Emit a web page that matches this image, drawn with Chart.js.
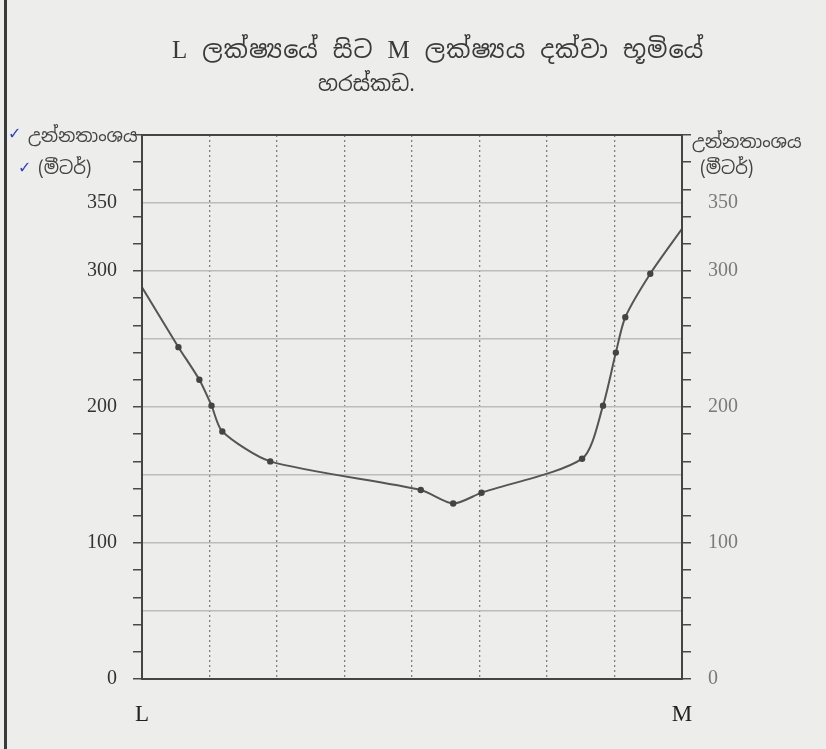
<!DOCTYPE html>
<html>
<head>
<meta charset="utf-8">
<script src="https://cdn.jsdelivr.net/npm/chart.js@4.4.1/dist/chart.umd.min.js"></script>
<style>
  html, body { margin: 0; padding: 0; }
  body {
    width: 826px; height: 749px; overflow: hidden; position: relative;
    background: #ededeb;
    font-family: "Noto Sans Sinhala", "Liberation Serif", "DejaVu Serif", serif;
    color: #333;
  }
  #frame { position: absolute; left: 4px; top: 0; width: 3px; height: 749px; background: #3a3a3a; }
  #wrap { position: absolute; left: 0; top: 0; width: 826px; height: 749px; }
  .txt { position: absolute; white-space: nowrap; }
  .title { font-size: 24px; color: #3a3a3a; letter-spacing: 1px; word-spacing: 1px; }
  .lat { font-family: "Liberation Serif", serif; font-size: 25px; }
  .ytitle { font-size: 18px; color: #444; }
  .tick { color: #2c3fc0; font-family: "DejaVu Sans", sans-serif; font-size: 16px; }
</style>
</head>
<body>
<div id="frame"></div>
<div id="wrap"><canvas id="c" width="826" height="749"></canvas></div>

<div class="txt title" style="left:172px; top:34px;"><span class="lat">L</span> ලක්ෂ්‍යයේ සිට <span class="lat">M</span> ලක්ෂ්‍යය දක්වා භූමියේ</div>
<div class="txt title" style="left:318px; top:70px; font-size:21px; letter-spacing:0;">හරස්කඩ.</div>

<div class="txt tick" style="left:8px; top:124px;">✓</div>
<div class="txt ytitle" style="left:28px; top:124px;">උන්නතාංශය</div>
<div class="txt tick" style="left:18px; top:158px;">✓</div>
<div class="txt ytitle" style="left:38px; top:156px;">(මීටර්)</div>

<div class="txt ytitle" style="left:692px; top:130px;">උන්නතාංශය</div>
<div class="txt ytitle" style="left:700px; top:156px;">(මීටර්)</div>

<script>
// distance from L (in grid columns) and elevation (metres)
const distance  = [0, 0.54, 0.85, 1.03, 1.19, 1.9, 4.13, 4.61, 5.03, 6.52, 6.83, 7.02, 7.16, 7.53, 8];
const elevation = [288, 244, 220, 201, 182, 160, 139, 129, 137, 162, 201, 240, 266, 298, 331];
const yLabels = [0, 100, 200, 300, 350];
const xLabels = { 0: "L", 8: "M" };

const points = distance.map( ( d, i ) => ( { x: d, y: elevation[ i ] } ) );

const boxPlugin = {
  id: "box",
  afterDraw( chart ) {
    const { ctx, chartArea: a } = chart;
    ctx.save();
    ctx.strokeStyle = "#444";
    ctx.lineWidth = 2;
    ctx.strokeRect( a.left, a.top, a.right - a.left, a.bottom - a.top );
    ctx.restore();
  }
};

const tickFont = { family: "'Liberation Serif', 'DejaVu Serif', serif", size: 20 };

const yGrid = ( showLines ) => ( {
  drawOnChartArea: showLines,
  tickLength: 9,
  lineWidth: 1.5,
  color: c => ( c.tick && c.tick.value % 50 === 0 && c.tick.value > 0 && c.tick.value < 400 ) ? "#bcbcb9" : "rgba(0,0,0,0)",
  tickColor: c => ( c.tick && c.tick.value % 20 === 0 ) ? "#4a4a4a" : "rgba(0,0,0,0)"
} );

new Chart( document.getElementById( "c" ), {
    type: "line"
  , data: {
      datasets: [ {
          data: points
        , borderColor: "#555"
        , borderWidth: 2
        , pointRadius: c => ( c.dataIndex === 0 || c.dataIndex === points.length - 1 ) ? 0 : 2.2
        , pointBackgroundColor: "#444"
        , pointBorderColor: "#444"
        , tension: 0.25
        , fill: false
      } ]
    }
  , options: {
      responsive: false
    , animation: false
    , layout: { padding: { top: 135, left: 0, right: 0, bottom: 0 } }
    , plugins: { legend: { display: false }, title: { display: false }, tooltip: { enabled: false } }
    , scales: {
        x: {
            type: "linear"
          , min: 0
          , max: 8
          , ticks: {
              stepSize: 1
            , padding: 22
            , color: "#222"
            , font: { family: "'Liberation Serif', serif", size: 23 }
            , callback: v => xLabels[ v ] || ""
          }
          , grid: {
              drawTicks: false
            , lineWidth: 1.3
            , color: "rgba(100,100,100,0.8)"
          }
          , border: { display: false, dash: [ 2, 3 ] }
          , afterFit: s => { s.height = 70; }
        }
      , y: {
            position: "left"
          , min: 0
          , max: 400
          , ticks: {
              stepSize: 10
            , autoSkip: false
            , maxTicksLimit: 100
            , padding: 16
            , color: "#333"
            , font: tickFont
            , callback: v => yLabels.includes( v ) ? String( v ) : ""
          }
          , grid: yGrid( true )
          , border: { display: false }
          , afterFit: s => { s.width = 142; }
        }
      , y2: {
            position: "right"
          , min: 0
          , max: 400
          , ticks: {
              stepSize: 10
            , autoSkip: false
            , maxTicksLimit: 100
            , padding: 17
            , color: "#7a7a7a"
            , font: tickFont
            , callback: v => yLabels.includes( v ) ? String( v ) : ""
          }
          , grid: yGrid( false )
          , border: { display: false }
          , afterFit: s => { s.width = 144; }
        }
      }
    }
  , plugins: [ boxPlugin ]
} );
</script>
</body>
</html>
